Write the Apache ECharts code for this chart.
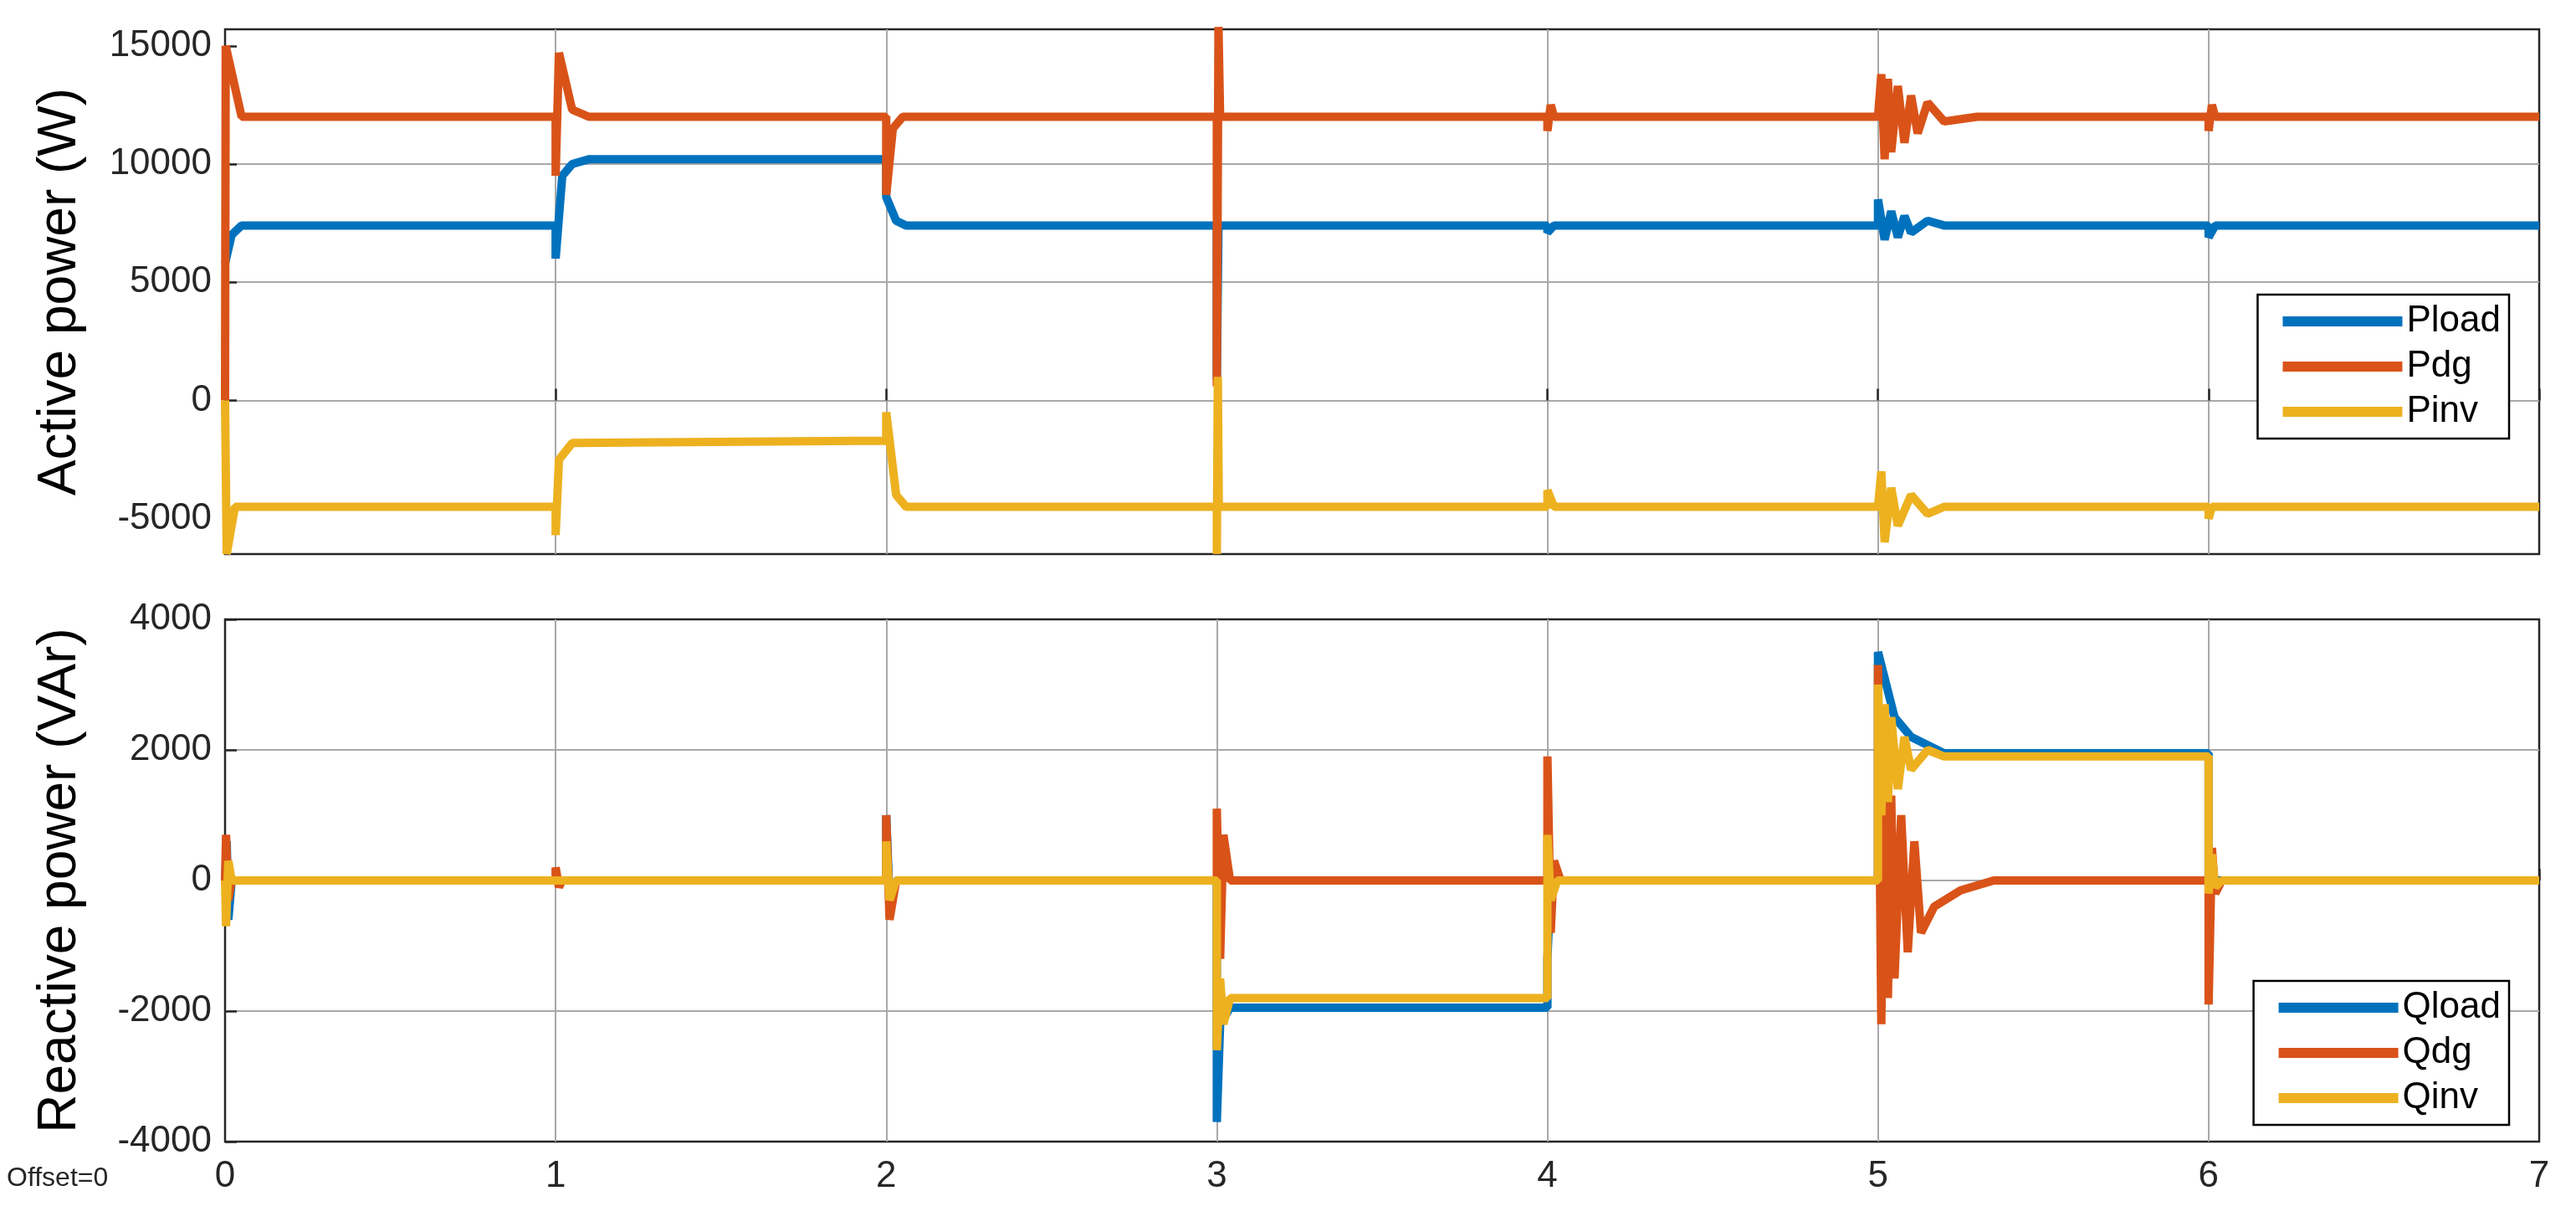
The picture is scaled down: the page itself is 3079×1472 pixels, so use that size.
<!DOCTYPE html>
<html>
  <head>
    <title></title>
    <meta charset="UTF-8" />
    <script src="https://cdn.jsdelivr.net/npm/echarts@6/dist/echarts.min.js"></script>
    <style>body{margin:0;background:#fff}</style>
  </head>
  <body>
    <div id="main"></div>
    <script>
      const width = 3079;
      const height = 1472;
      const main = document.getElementById('main');
      main.style.width = `${width}px`;
      main.style.height = `${height}px`;

      // [time (s), value] key points
      const pload = [[0,5800],[0.02,7000],[0.05,7400],[1,7400],[1,6000],[1.02,9500],[1.05,10000],[1.1,10200],[2,10200],[2,8600],[2.03,7600],[2.06,7400],[3,7400],[3,900],[3.005,7400],[4,7400],[4,7100],[4.02,7400],[5,7400],[5,8500],[5.02,6800],[5.04,8000],[5.06,6900],[5.08,7800],[5.1,7100],[5.15,7600],[5.2,7400],[6,7400],[6,6900],[6.02,7400],[7,7400]];
      const pdg = [[0,0],[0.002,15000],[0.05,12000],[1,12000],[1,9500],[1.01,14700],[1.05,12300],[1.1,12000],[2,12000],[2,8700],[2.02,11500],[2.05,12000],[3,12000],[3,600],[3.005,15800],[3.01,12000],[4,12000],[4,11400],[4.01,12500],[4.02,12000],[5,12000],[5.01,13800],[5.02,10200],[5.03,13600],[5.04,10500],[5.06,13300],[5.08,10900],[5.1,12900],[5.12,11300],[5.15,12600],[5.2,11800],[5.3,12000],[6,12000],[6,11400],[6.01,12500],[6.02,12000],[7,12000]];
      const pinv = [[0,0],[0.005,-6500],[0.03,-4500],[1,-4500],[1,-5700],[1.01,-2500],[1.05,-1800],[2,-1700],[2,-500],[2.03,-4000],[2.06,-4500],[3,-4500],[3,-6500],[3.003,1000],[3.006,-4500],[4,-4500],[4,-3800],[4.02,-4500],[5,-4500],[5.01,-3000],[5.02,-6000],[5.04,-3700],[5.06,-5300],[5.1,-4000],[5.15,-4800],[5.2,-4500],[6,-4500],[6,-5000],[6.01,-4500],[7,-4500]];
      const qload = [[0,0],[0.005,600],[0.01,-600],[0.02,0],[1,0],[2,0],[2,1000],[2.01,-300],[2.03,0],[3,0],[3,-3700],[3.01,-2200],[3.04,-1950],[4,-1950],[4,-1200],[4.01,0],[5,0],[5,3500],[5.05,2500],[5.1,2200],[5.2,1950],[6,1950],[6,0],[7,0]];
      const qdg = [[0,0],[0.003,700],[0.01,-300],[0.02,0],[1,0],[1,200],[1.01,-100],[1.02,0],[2,0],[2,1000],[2.01,-600],[2.03,0],[3,0],[3,1100],[3.01,-1200],[3.02,700],[3.04,0],[4,0],[4,1900],[4.01,-800],[4.02,300],[4.04,0],[5,0],[5,3300],[5.01,-2200],[5.02,1800],[5.03,-1800],[5.04,1300],[5.05,-1500],[5.07,1000],[5.09,-1100],[5.11,600],[5.13,-800],[5.17,-400],[5.25,-150],[5.35,0],[6,0],[6,-1900],[6.01,500],[6.02,-200],[6.04,0],[7,0]];
      const qinv = [[0,0],[0.003,-700],[0.01,300],[0.02,0],[1,0],[2,0],[2,600],[2.01,-300],[2.03,0],[3,0],[3,-2600],[3.01,-1500],[3.02,-2200],[3.04,-1800],[4,-1800],[4,700],[4.01,-300],[4.03,0],[5,0],[5,3000],[5.01,1000],[5.02,2700],[5.03,1200],[5.04,2500],[5.06,1400],[5.08,2200],[5.1,1700],[5.15,2000],[5.2,1900],[6,1900],[6,-200],[6.01,400],[6.02,-100],[6.04,0],[7,0]];
      const pTicks = [-5000, 0, 5000, 10000, 15000];

      const font = 'Liberation Sans, Arial, sans-serif';
      const colors = ['#0072BD', '#D95319', '#EDB120'];
      const gridLine = { show: true, showMinLine: false, showMaxLine: false, lineStyle: { color: '#a8a8a8', width: 2 } };
      const tickStyle = { inside: true, length: 14, lineStyle: { color: '#262626', width: 2.5 } };
      const labelStyle = { fontSize: 44, color: '#262626', fontFamily: font, formatter: v => String(v) };
      const line = (name, data, xi, c) => ({
        name, type: 'line', xAxisIndex: xi, yAxisIndex: xi, data,
        showSymbol: false, animation: false,
        lineStyle: { color: c, width: 10 }, itemStyle: { color: c }
      });
      const xAx = (gi, show) => ({
        type: 'value', gridIndex: gi, min: 0, max: 7, interval: 1,
        axisLine: { show: false },
        axisTick: tickStyle,
        axisLabel: Object.assign({}, labelStyle, { show, margin: 20 }),
        splitLine: gridLine
      });
      const legend = (names, top) => ({
        data: names, orient: 'vertical', right: 80, top,
        itemWidth: 143, itemHeight: 12, itemGap: 10, padding: [10, 10, 10, 30],
        backgroundColor: '#fff', borderColor: '#000', borderWidth: 2.5,
        textStyle: { fontSize: 44, color: '#000', fontFamily: font },
        icon: 'rect'
      });
      const nameStyle = { fontSize: 64, color: '#000', fontFamily: font };

      const myChart = echarts.init(main);
      myChart.setOption({
        animation: false,
        backgroundColor: '#fff',
        color: colors,
        graphic: [{ type: 'text', left: 8, top: 1392, style: { text: 'Offset=0', fontSize: 32, fill: '#262626', fontFamily: font } }],
        legend: [legend(['Pload', 'Pdg', 'Pinv'], 352), legend(['Qload', 'Qdg', 'Qinv'], 1172)],
        grid: [
          { left: 269, right: 44, top: 35, height: 627, show: true, borderColor: '#262626', borderWidth: 2.5 },
          { left: 269, right: 44, top: 740, height: 624, show: true, borderColor: '#262626', borderWidth: 2.5 }
        ],
        xAxis: [xAx(0, false), xAx(1, true)],
        yAxis: [
          {
            type: 'value', gridIndex: 0, min: -6500, max: 15700,
            name: 'Active power (W)', nameLocation: 'middle', nameGap: 165, nameTextStyle: nameStyle,
            axisLine: { show: false },
            axisTick: Object.assign({ customValues: pTicks }, tickStyle),
            axisLabel: Object.assign({ customValues: pTicks, margin: 16 }, labelStyle),
            splitLine: Object.assign({ customValues: pTicks }, gridLine)
          },
          {
            type: 'value', gridIndex: 1, min: -4000, max: 4000, interval: 2000,
            name: 'Reactive power (VAr)', nameLocation: 'middle', nameGap: 165, nameTextStyle: nameStyle,
            axisLine: { show: false },
            axisTick: tickStyle,
            axisLabel: Object.assign({ margin: 16 }, labelStyle),
            splitLine: gridLine
          }
        ],
        series: [
          line('Pload', pload, 0, colors[0]),
          line('Pdg', pdg, 0, colors[1]),
          line('Pinv', pinv, 0, colors[2]),
          line('Qload', qload, 1, colors[0]),
          line('Qdg', qdg, 1, colors[1]),
          line('Qinv', qinv, 1, colors[2])
        ]
      });
    </script>
  </body>
</html>
